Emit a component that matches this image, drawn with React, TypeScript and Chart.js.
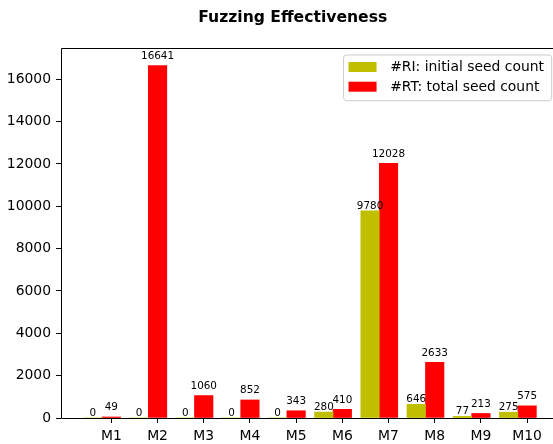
import React, { useEffect, useRef } from "react";
import { Chart, registerables } from "chart.js";

Chart.register(...registerables);

const title = "Fuzzing Effectiveness";
const categories = ["M1", "M2", "M3", "M4", "M5", "M6", "M7", "M8", "M9", "M10"];
const riValues = [0, 0, 0, 0, 0, 280, 9780, 646, 77, 275];
const rtValues = [49, 16641, 1060, 852, 343, 410, 12028, 2633, 213, 575];
const seriesLabels = ["#RI: initial seed count", "#RT: total seed count"];
const seriesColors = ["#bfbf00", "#ff0000"];
const yTicks = [0, 2000, 4000, 6000, 8000, 10000, 12000, 14000, 16000];

const FONT = "'DejaVu Sans', 'Liberation Sans', sans-serif";
const BAR_W = 0.4;
const CANVAS_W = 562;
const CANVAS_H = 444;
const LABEL_OFFSETS = [2.4, 6.6];

export default function App() {
  const ref = useRef<HTMLCanvasElement | null>(null);

  useEffect(() => {
    const canvas = ref.current;
    if (!canvas) return;

    const n = categories.length;
    const dataMin = -1.5 * BAR_W;
    const dataMax = n - 1 + 0.5 * BAR_W;
    const margin = 0.05 * (dataMax - dataMin);
    const yMax = Math.max(...riValues, ...rtValues) * 1.05;

    const framePlugin = {
      id: "frame",
      afterDatasetsDraw(chart: any) {
        const { ctx, chartArea } = chart;
        ctx.save();
        ctx.strokeStyle = "#000";
        ctx.lineWidth = 1;
        const l = Math.round(chartArea.left) + 0.5;
        const r = Math.round(chartArea.right) + 0.5;
        const t = Math.round(chartArea.top) + 0.5;
        const b = Math.round(chartArea.bottom) + 0.5;
        ctx.beginPath();
        ctx.moveTo(l, b);
        ctx.lineTo(l, t);
        ctx.lineTo(r, t);
        ctx.lineTo(r, b);
        ctx.closePath();
        ctx.stroke();
        ctx.restore();
      },
    };

    const barLabelPlugin = {
      id: "barLabels",
      afterDatasetsDraw(chart: any) {
        const { ctx } = chart;
        ctx.save();
        ctx.font = `10.4px ${FONT}`;
        ctx.fillStyle = "#000";
        ctx.textAlign = "center";
        ctx.textBaseline = "alphabetic";
        chart.data.datasets.forEach((ds: any, di: number) => {
          const meta = chart.getDatasetMeta(di);
          meta.data.forEach((el: any, i: number) => {
            const v = ds.data[i].y;
            ctx.fillText(String(v), el.x, el.y - LABEL_OFFSETS[di]);
          });
        });
        ctx.restore();
      },
    };

    const titlePlugin = {
      id: "titleText",
      afterDraw(chart: any) {
        const { ctx } = chart;
        ctx.save();
        ctx.font = `bold 15.6px ${FONT}`;
        ctx.fillStyle = "#000";
        ctx.textAlign = "center";
        ctx.textBaseline = "alphabetic";
        ctx.fillText(title, 292.7, 21.5);
        ctx.restore();
      },
    };

    const legendPlugin = {
      id: "legendBox",
      afterDraw(chart: any) {
        const { ctx } = chart;
        ctx.save();
        ctx.font = `13.9px ${FONT}`;
        const labels = chart.data.datasets.map((d: any) => d.label);
        const colors = chart.data.datasets.map((d: any) => d.backgroundColor);
        const textW = Math.max(...labels.map((s: string) => ctx.measureText(s).width));
        const right = 551.7;
        const top = 55;
        const width = 46.6 + textW + 7.7;
        const height = 45.7;
        const left = right - width;
        const rad = 3;
        ctx.beginPath();
        ctx.moveTo(left + rad, top);
        ctx.lineTo(right - rad, top);
        ctx.arcTo(right, top, right, top + rad, rad);
        ctx.lineTo(right, top + height - rad);
        ctx.arcTo(right, top + height, right - rad, top + height, rad);
        ctx.lineTo(left + rad, top + height);
        ctx.arcTo(left, top + height, left, top + height - rad, rad);
        ctx.lineTo(left, top + rad);
        ctx.arcTo(left, top, left + rad, top, rad);
        ctx.closePath();
        ctx.fillStyle = "rgba(255,255,255,0.8)";
        ctx.fill();
        ctx.strokeStyle = "#cccccc";
        ctx.lineWidth = 1;
        ctx.stroke();
        labels.forEach((s: string, i: number) => {
          const cy = 67 + i * 19.7;
          ctx.fillStyle = colors[i];
          ctx.fillRect(left + 5, cy - 5, 28, 10);
          ctx.fillStyle = "#000";
          ctx.textAlign = "left";
          ctx.textBaseline = "middle";
          ctx.fillText(s, left + 46.6, cy + 0.5);
        });
        ctx.restore();
      },
    };

    const axisCommon = {
      offset: false,
      grid: {
        offset: false,
        drawOnChartArea: false,
        drawTicks: true,
        tickLength: 5,
        color: "#000",
        lineWidth: 1,
      },
      border: { display: false },
    };

    const chart = new Chart(canvas, {
      type: "bar",
      data: {
        datasets: [
          {
            label: seriesLabels[0],
            backgroundColor: seriesColors[0],
            borderWidth: 0,
            data: riValues.map((v, i) => ({ x: i - BAR_W, y: v })),
          },
          {
            label: seriesLabels[1],
            backgroundColor: seriesColors[1],
            borderWidth: 0,
            data: rtValues.map((v, i) => ({ x: i, y: v })),
          },
        ],
      },
      options: {
        responsive: false,
        animation: false,
        devicePixelRatio: 1,
        layout: { padding: { left: 0, top: 48, right: CANVAS_W - 559, bottom: 0 } },
        plugins: {
          legend: { display: false },
          title: { display: false },
          tooltip: { enabled: false },
        },
        datasets: {
          bar: { grouped: false, barPercentage: 1, categoryPercentage: 1 },
        },
        scales: {
          x: {
            type: "linear",
            min: dataMin - margin,
            max: dataMax + margin,
            afterBuildTicks: (s: any) => {
              s.ticks = categories.map((_, i) => ({ value: i }));
            },
            afterFit: (s: any) => {
              s.height = CANVAS_H - 418;
            },
            ticks: {
              callback: (v: any) => categories[v],
              color: "#000",
              font: { family: FONT, size: 13.9 },
              padding: 5,
              autoSkip: false,
              maxRotation: 0,
            },
            ...axisCommon,
          },
          y: {
            type: "linear",
            min: 0,
            max: yMax,
            afterBuildTicks: (s: any) => {
              s.ticks = yTicks.map((v) => ({ value: v }));
            },
            afterFit: (s: any) => {
              s.width = 61;
            },
            ticks: {
              callback: (v: any) => String(v),
              color: "#000",
              font: { family: FONT, size: 13.9 },
              padding: 5,
            },
            ...axisCommon,
          },
        },
      } as any,
      plugins: [framePlugin, barLabelPlugin, titlePlugin, legendPlugin],
    });

    return () => chart.destroy();
  }, []);

  return (
    <div
      style={{
        position: "fixed",
        left: 0,
        top: 0,
        width: 553,
        height: 444,
        overflow: "hidden",
        background: "#fff",
      }}
    >
      <canvas
        ref={ref}
        width={CANVAS_W}
        height={CANVAS_H}
        style={{ display: "block", width: CANVAS_W, height: CANVAS_H }}
      />
    </div>
  );
}
